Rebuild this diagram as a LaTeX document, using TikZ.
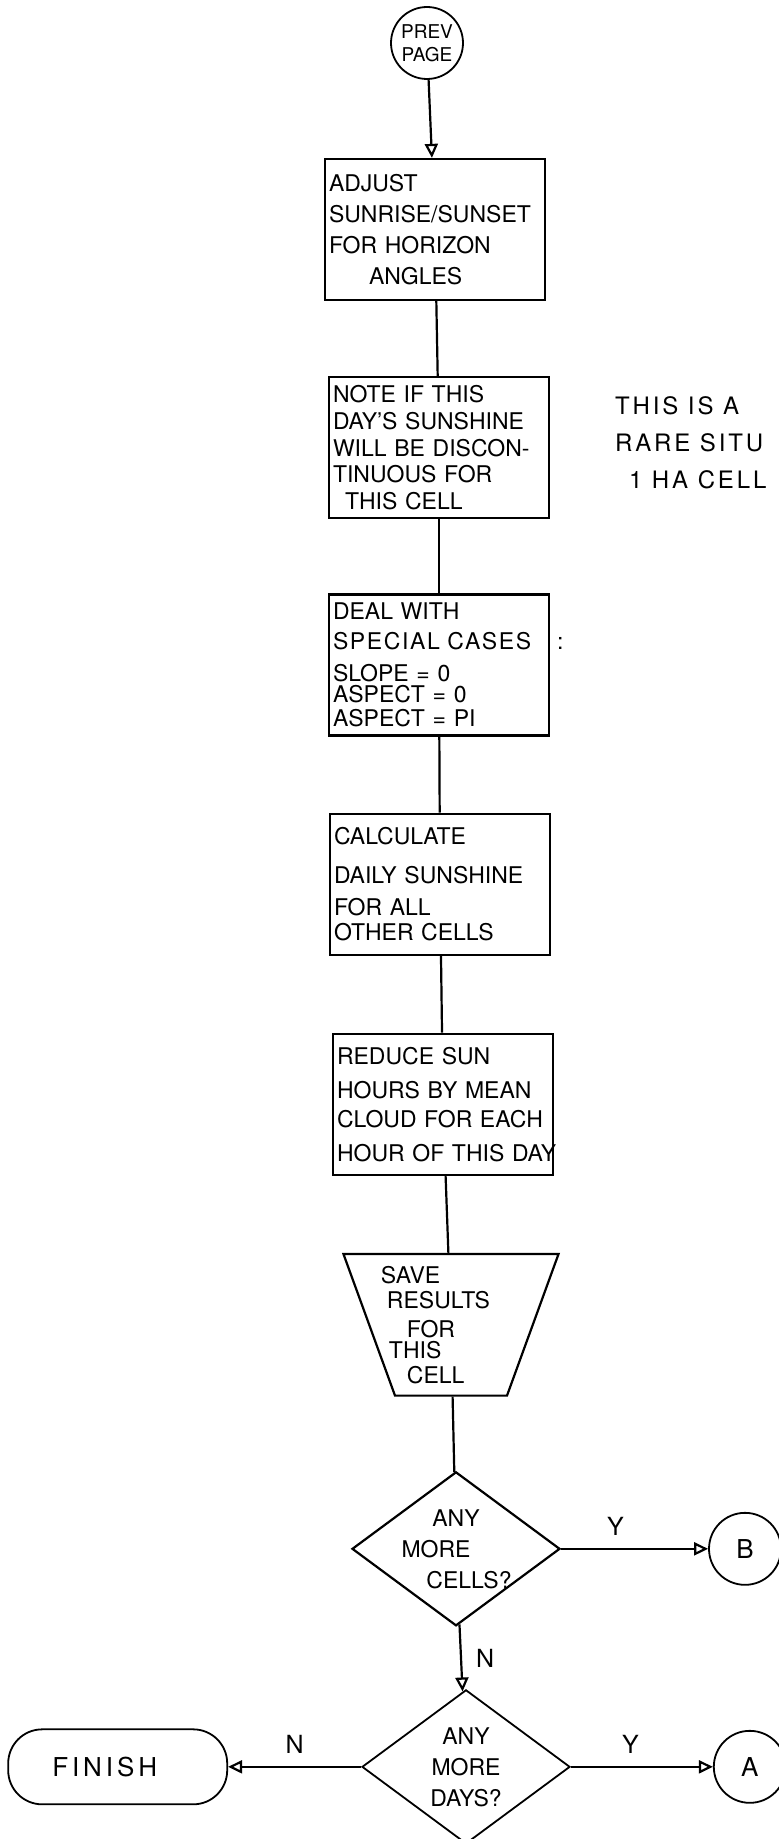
\documentclass[tikz,border=0pt]{standalone}
\usepackage{fontspec}
\setmainfont{TeX Gyre Heros}
\usepackage{graphicx}
\usetikzlibrary{arrows.meta,positioning,shapes.geometric}

\begin{document}
\begin{tikzpicture}[x=0.5pt,y=-0.5pt,line width=1.1pt,
  font=\fontsize{11.5}{15.5}\selectfont,
  proc/.style={draw,rectangle,text width=106pt,inner xsep=2pt,inner ysep=0pt,
    minimum height=70.5pt,align=left},
  conn/.style={draw,circle,minimum size=36pt,inner sep=0pt,align=center,line width=0.9pt},
  decide/.style={draw,diamond,aspect=1.35,minimum width=104pt,minimum height=77pt,
    inner sep=-2pt,align=center},
  store/.style={draw,trapezium,trapezium left angle=70,trapezium right angle=70,
    shape border rotate=180,text width=56pt,inner xsep=0pt,inner ysep=6pt,
    align=left,font=\fontsize{11.5}{12.5}\selectfont},
  term/.style={draw,rectangle,rounded corners=17pt,minimum width=109.5pt,
    minimum height=37.5pt,line width=0.9pt,
    font=\fontsize{13}{13}\selectfont\addfontfeature{LetterSpace=15}},
  remark/.style={inner sep=0pt,align=left,
    font=\fontsize{12}{18.5}\selectfont\addfontfeature{LetterSpace=12}},
  lbl/.style={inner sep=1pt,font=\fontsize{12.5}{12.5}\selectfont},
  arr/.style={-{Triangle[open,length=7pt,width=6.5pt]}}]
  \useasboundingbox (0,0) rectangle (779,1839);
  % main column
  \node[conn,font=\fontsize{9.5}{11.5}\selectfont] (prev) at (427,43) {PREV\\PAGE};
  \node[proc,below=39pt of prev,xshift=4pt] (adjust)
    {ADJUST\\SUNRISE/SUNSET\\FOR HORIZON\\\hspace*{20pt}ANGLES};
  \node[proc,below=37.5pt of adjust,xshift=2pt,font=\fontsize{11.5}{13.3}\selectfont] (note)
    {NOTE IF THIS\\DAY'S SUNSHINE\\WILL BE DISCON-\\TINUOUS FOR\\\hspace*{6pt}THIS CELL};
  \node[proc,below=37pt of note] (deal)
    {DEAL WITH\\[-0.5pt]{\addfontfeature{LetterSpace=7}SPECIAL CASES}\hfill\rlap{\hspace*{6pt}:}\\[0.5pt]SLOPE = 0\\[-5pt]ASPECT = 0\\[-3.5pt]ASPECT = PI};
  \node[proc,below=38pt of deal,xshift=0.5pt] (calc)
    {CALCULATE\\[4pt]DAILY SUNSHINE\\[0.5pt]FOR ALL\\[-3pt]OTHER CELLS};
  \node[proc,below=38.5pt of calc,xshift=1.5pt] (reduce)
    {REDUCE SUN\\[1.5pt]HOURS BY MEAN\\[-1pt]CLOUD FOR EACH\\[1.5pt]\mbox{HOUR OF THIS DAY}};
  \node[store,below=38.5pt of reduce,xshift=4pt] (save)
    {\hspace*{-7pt}SAVE\\\hspace*{-4pt}RESULTS\\[2pt]\hspace*{6pt}FOR\\[-2pt]\hspace*{-3pt}THIS\\\hspace*{6pt}CELL};
  \node[decide,below=37pt of save,xshift=2.5pt] (cells)
    {ANY\\\hspace*{-20pt}MORE\\\hspace*{13pt}CELLS?};
  \node[decide,below=31pt of cells,xshift=5pt,line width=0.9pt] (days) {ANY\\MORE\\DAYS?};
  % exits
  \node[conn,right=73.5pt of cells,font=\fontsize{13}{13}\selectfont] (pageB) {B};
  \node[conn,right=71pt of days,font=\fontsize{13}{13}\selectfont] (pageA) {A};
  \node[term,left=66.5pt of days] (finish) {\hspace*{-13pt}FINISH};
  % side note
  \node[remark,anchor=north west] (rare) at (614,395)
    {THIS IS A\\RARE SITU\\\hspace*{7pt}1 HA CELL};
  % connectors
  \draw[arr] (prev) -- (adjust);
  \draw (adjust) -- (note);
  \draw (note) -- (deal);
  \draw (deal) -- (calc);
  \draw (calc) -- (reduce);
  \draw (reduce) -- (save);
  \draw (save) -- (cells);
  \draw[arr] (cells) -- node[lbl,above=5pt,pos=.37] {Y} (pageB);
  \draw[arr] (cells) -- node[lbl,right=6pt] {N} (days);
  \draw[arr] (days) -- node[lbl,above=5pt] {N} (finish);
  \draw[arr] (days) -- node[lbl,above=5pt,pos=.42] {Y} (pageA);
\end{tikzpicture}
\end{document}
